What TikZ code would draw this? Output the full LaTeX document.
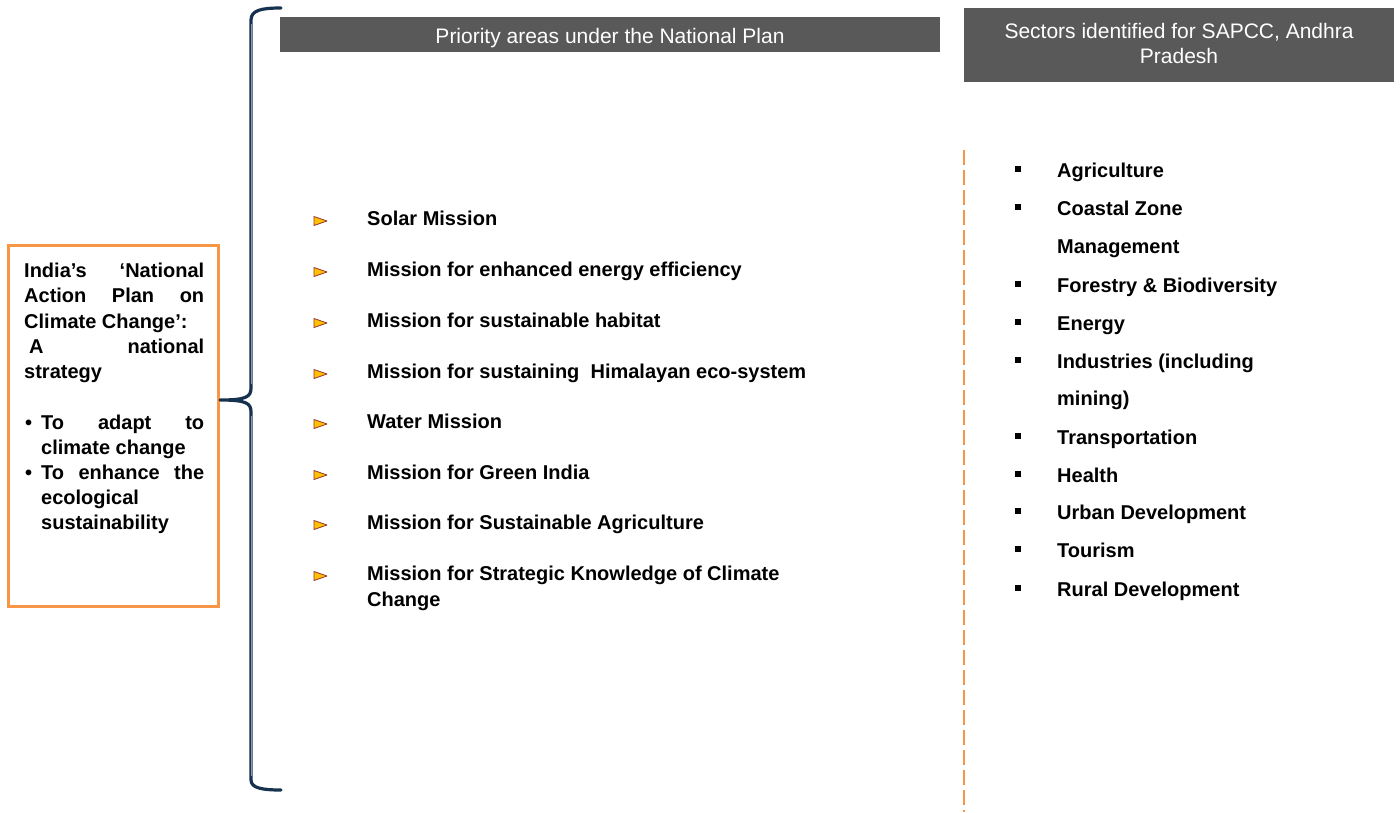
\documentclass[tikz,border=0pt]{standalone}
\usepackage{fontspec}
\setmainfont{Liberation Sans}
\definecolor{hdr}{HTML}{595959}
\definecolor{orng}{HTML}{F79646}
\definecolor{navy}{HTML}{17324F}
\definecolor{navylight}{HTML}{8C9DB3}
\definecolor{triyellow}{HTML}{FFC000}
\definecolor{triedge}{HTML}{943634}
\tikzset{
  hdrbox/.style={fill=hdr, draw=none, inner sep=0pt},
  hdrtext/.style={text=white, inner sep=0pt, anchor=base, font=\fontsize{21}{25}\selectfont},
  framebox/.style={draw=orng, line width=3pt, fill=white, inner sep=0pt},
  bodytext/.style={inner sep=0pt, anchor=base west, font=\fontsize{20}{25}\selectfont\bfseries},
  listtext/.style={inner sep=0pt, anchor=base west, font=\fontsize{20}{26}\selectfont\bfseries},
  bracepath/.style={draw=navy, line width=3.2pt, line cap=round, line join=round},
  braceinner/.style={draw=navylight, line width=1pt},
  tribullet/.style={fill=triyellow, draw=triedge, line width=0.8pt, line join=round},
  sqbullet/.style={fill=black, draw=none, minimum size=6pt, inner sep=0pt},
  divider/.style={draw=orng, line width=2.5pt, dash pattern=on 15pt off 5pt}
}
\begin{document}
\begin{tikzpicture}[x=1pt,y=-1pt]
\useasboundingbox (0,0) rectangle (1400,812);

% headers
\node[hdrbox, minimum width=660pt, minimum height=35pt] (h1) at (610,34.5) {};
\node[hdrtext] (h1t) at (610,43.5) {Priority areas under the National Plan};
\node[hdrbox, minimum width=430pt, minimum height=74pt] (h2) at (1179,45) {};
\node[hdrtext] (h2a) at (1179,38.5) {Sectors identified for SAPCC, Andhra};
\node[hdrtext] (h2b) at (1179,63.5) {Pradesh};

% left box
\node[framebox, minimum width=210pt, minimum height=361pt] (box) at (113,425.5) {};
\node[bodytext] (l1) at (24,277) {\makebox[180pt][s]{India’s ‘National}};
\node[bodytext] (l2) at (24,302.5) {\makebox[180pt][s]{Action Plan on}};
\node[bodytext] (l3) at (24,328) {Climate Change’:};
\node[bodytext] (l4) at (29,353) {\makebox[175pt][s]{A national}};
\node[bodytext] (l5) at (24,378) {strategy};
\node[bodytext] (b1) at (25,429) {•};
\node[bodytext] (l6) at (41,429) {\makebox[163pt][s]{To adapt to}};
\node[bodytext] (l7) at (41,454) {climate change};
\node[bodytext] (b2) at (25,479) {•};
\node[bodytext] (l8) at (41,479) {\makebox[163pt][s]{To enhance the}};
\node[bodytext] (l9) at (41,504) {ecological};
\node[bodytext] (l10) at (41,529) {sustainability};

% brace
\coordinate (btop) at (281,8);
\coordinate (bbot) at (281,790);
\coordinate (btip) at (220,400);
\path[bracepath] (btop) .. controls (262,8) and (251,10) .. (251,20) -- (251,388)
  .. controls (251,397) and (246,400) .. (btip)
  .. controls (246,400) and (251,403) .. (251,412) -- (251,780)
  .. controls (251,788) and (262,790) .. (bbot);
\path[braceinner] (251,24) -- (251,384);
\path[braceinner] (251,416) -- (251,776);

% missions
\foreach \i/\y/\t in {1/225/{Solar Mission},
  2/276/{Mission for enhanced energy efficiency},
  3/327/{Mission for sustainable habitat},
  4/378/{Mission for sustaining\ \ Himalayan eco-system},
  5/428/{Water Mission},
  6/479/{Mission for Green India},
  7/529/{Mission for Sustainable Agriculture},
  8/580/{Mission for Strategic Knowledge of Climate}} {
  \node[listtext] (m\i) at (367,\y) {\t};
  \path[tribullet] (314,\y-8.5) -- (327,\y-4) -- (314,\y+0.5) -- cycle;
}
\node[listtext] (m9) at (367,606) {Change};

% divider
\coordinate (dtop) at (964,150);
\coordinate (dbot) at (964,812);
\path[divider] (dtop) -- (dbot);

% sectors
\foreach \i/\y/\t in {1/177/{Agriculture},
  2/215/{Coastal Zone},
  4/292/{Forestry \& Biodiversity},
  5/330/{Energy},
  6/368/{Industries (including},
  8/444/{Transportation},
  9/482/{Health},
  10/519/{Urban Development},
  11/557/{Tourism},
  12/596/{Rural Development}} {
  \node[listtext] (s\i) at (1057,\y) {\t};
  \node[sqbullet] (q\i) at (1018,\y-8) {};
}
\node[listtext] (s3) at (1057,253) {Management};
\node[listtext] (s7) at (1057,405) {mining)};
\end{tikzpicture}
\end{document}
